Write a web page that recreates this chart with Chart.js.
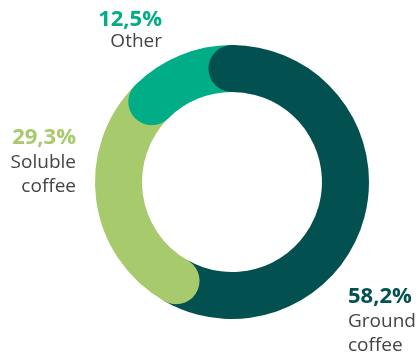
<!DOCTYPE html>
<html>
<head>
<meta charset="utf-8">
<script src="https://cdn.jsdelivr.net/npm/chart.js@4/dist/chart.umd.min.js"></script>
<style>
  html, body { margin: 0; padding: 0; background: #ffffff; }
  canvas { display: block; }
</style>
</head>
<body>
<canvas id="chart" width="416" height="359"></canvas>
<script>
// Coffee market share by product type
const categories = [["Ground", "coffee"], ["Soluble", "coffee"], ["Other"]];
const shares = [58.2, 29.3, 12.5];
const colors = ["#02504f", "#a7cb6c", "#00ad87"];

// Where each label block sits, how it is aligned and its line spacing
const labelPlacement = [
  { x: 348, y: 303, align: "left", gap: 23.5, lead: 24 },
  { x: 76, y: 144, align: "right", gap: 24, lead: 23.5 },
  { x: 162, y: 26, align: "right", gap: 20.5, lead: 24 }
];

const fmtPct = v => v.toFixed(1).replace(".", ",") + "%";

// Round cap at the start of every segment, laid over the previous one
const roundCaps = {
  id: "roundCaps",
  afterDatasetsDraw(chart) {
    const ctx = chart.ctx;
    const meta = chart.getDatasetMeta(0);
    ctx.save();
    meta.data.forEach((arc, i) => {
      const p = arc.getProps(["x", "y", "startAngle", "innerRadius", "outerRadius"], true);
      const mid = (p.innerRadius + p.outerRadius) / 2;
      const half = (p.outerRadius - p.innerRadius) / 2;
      ctx.beginPath();
      ctx.arc(p.x + mid * Math.cos(p.startAngle), p.y + mid * Math.sin(p.startAngle), half, 0, Math.PI * 2);
      ctx.fillStyle = colors[i];
      ctx.fill();
    });
    ctx.restore();
  }
};

// Percentage and category name next to the ring
const sliceLabels = {
  id: "sliceLabels",
  afterDraw(chart) {
    const ctx = chart.ctx;
    ctx.save();
    ctx.textBaseline = "alphabetic";
    shares.forEach((v, i) => {
      const pos = labelPlacement[i];
      ctx.textAlign = pos.align;
      ctx.fillStyle = colors[i];
      ctx.font = "bold 22px 'Open Sans'";
      ctx.fillText(fmtPct(v), pos.x, pos.y);
      ctx.fillStyle = "#444444";
      ctx.font = "19px 'Open Sans'";
      categories[i].forEach((line, k) => {
        ctx.fillText(line, pos.x, pos.y + pos.gap + k * pos.lead);
      });
    });
    ctx.restore();
  }
};

new Chart(document.getElementById("chart"), {
  type: "doughnut",
  data: {
    labels: categories.map(c => c.join(" ")),
    datasets: [{
      data: shares,
      backgroundColor: colors,
      borderWidth: 0,
      hoverOffset: 0
    }]
  },
  options: {
    responsive: false,
    animation: false,
    cutout: "65.7%",
    rotation: 0,
    layout: { padding: { top: 45, bottom: 40, left: 95, right: 47 } },
    plugins: {
      legend: { display: false },
      tooltip: { enabled: false }
    }
  },
  plugins: [roundCaps, sliceLabels]
});
</script>
</body>
</html>
